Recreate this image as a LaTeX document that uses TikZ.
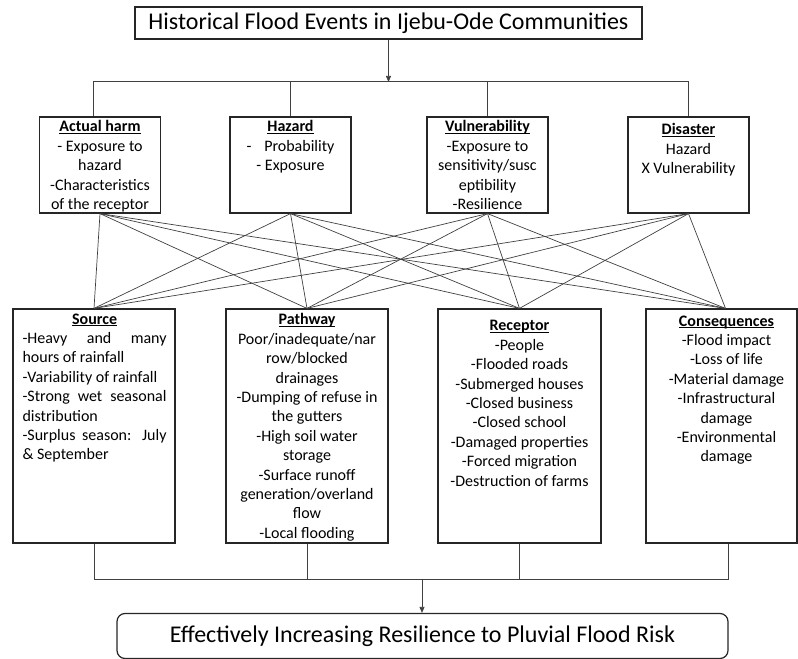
\documentclass[tikz,border=0pt]{standalone}
\usepackage{fontspec}
\setmainfont{Carlito}
\usetikzlibrary{arrows.meta,positioning}

\newcommand{\hd}[1]{\underline{\smash{\textbf{#1}}}\vphantom{\textbf{#1}}}
\newcommand{\jl}[1]{\makebox[144bp][s]{#1}}

\begin{document}
\begin{tikzpicture}[x=1bp,y=-1bp,
    box/.style={draw=black!85,line width=1.2bp,inner sep=0pt},
    txt/.style={anchor=north,align=center,inner sep=0pt,font=\fontsize{16bp}{19.4bp}\selectfont},
    link/.style={draw=black!75,line width=0.7bp},
    tip/.style={-{Triangle[length=6bp,width=5bp]}}]
\useasboundingbox (0,0) rectangle (798,659);

% top and bottom
\node[box,minimum width=507bp,minimum height=32bp,font=\fontsize{24bp}{28bp}\selectfont] (hist) at (388.5,23) {Historical Flood Events in Ijebu-Ode Communities};
\node[box,rounded corners=8bp,minimum width=611bp,minimum height=45bp,font=\fontsize{24bp}{28bp}\selectfont] (goal) at (422.5,636) {Effectively Increasing Resilience to Pluvial Flood Risk};

% upper row
\node[box,minimum width=121bp,minimum height=96bp] (harm) at (100,165) {};
\node[box,minimum width=121bp,minimum height=96bp] (haz) at (290.5,165) {};
\node[box,minimum width=121bp,minimum height=96bp] (vul) at (487.5,165) {};
\node[box,minimum width=121bp,minimum height=96bp] (dis) at (688.5,165) {};
\node[txt] (harm-t) at ([yshift=-4bp]harm.north) {\hd{Actual harm}\\- Exposure to\\hazard\\-Characteristics\\of the receptor};
\node[txt] (haz-t) at ([yshift=-4bp]haz.north) {\hd{Hazard}\\-\hspace{0.8em}Probability\\- Exposure};
\node[txt] (vul-t) at ([yshift=-4bp]vul.north) {\hd{Vulnerability}\\-Exposure to\\sensitivity/susc\\eptibility\\-Resilience};
\node[txt] (dis-t) at ([yshift=-7bp]dis.north) {\hd{Disaster}\\Hazard\\X Vulnerability};

% lower row
\node[box,minimum width=162bp,minimum height=234bp] (src) at (94,426) {};
\node[box,minimum width=162bp,minimum height=234bp] (pw) at (307,426) {};
\node[box,minimum width=163bp,minimum height=234bp] (rec) at (519.5,426) {};
\node[box,minimum width=151bp,minimum height=234bp] (cons) at (721.5,426) {};
\node[txt,anchor=north west,align=left] (src-t) at ([xshift=10bp,yshift=-5bp]src.north west) {\makebox[144bp]{\hd{Source}}\\\jl{-Heavy and many}\\hours of rainfall\\-Variability of rainfall\\\jl{-Strong wet seasonal}\\distribution\\\jl{-Surplus season: July}\\\& September};
\node[txt] (pw-t) at ([yshift=-5bp]pw.north) {\hd{Pathway}\\Poor/inadequate/nar\\row/blocked\\drainages\\-Dumping of refuse in\\the gutters\\-High soil water\\storage\\-Surface runoff\\generation/overland\\flow\\-Local flooding};
\node[txt] (rec-t) at ([yshift=-12bp]rec.north) {\hd{Receptor}\\-People\\-Flooded roads\\-Submerged houses\\-Closed business\\-Closed school\\-Damaged properties\\-Forced migration\\-Destruction of farms};
\node[txt] (cons-t) at ([xshift=5bp,yshift=-7bp]cons.north) {\hd{Consequences}\\-Flood impact\\-Loss of life\\-Material damage\\-Infrastructural\\damage\\-Environmental\\damage};

% branching
\coordinate (bus) at (388.5,82);
\coordinate (bot) at (422,579);
\draw[link,tip] (hist.south) -- (bus);
\draw[link] ([xshift=-7bp]harm.north) -- ++(0,-35) -| (dis.north);
\draw[link] (haz.north) -- (haz.north |- bus);
\draw[link] (vul.north) -- (vul.north |- bus);
\draw[link] (src.south) -- (src.south |- bot) -| ([xshift=6.5bp]cons.south);
\draw[link] (pw.south) -- (pw.south |- bot);
\draw[link] (rec.south) -- (rec.south |- bot);
\draw[link,tip] (bot) -- (bot |- goal.north);

% every upper box to every lower box
\path[link] (harm.south) edge (src.north) edge (pw.north) edge (rec.north) edge ([xshift=4bp]cons.north)
  (haz.south) edge (src.north) edge (pw.north) edge (rec.north) edge ([xshift=4bp]cons.north)
  (vul.south) edge (src.north) edge (pw.north) edge (rec.north) edge ([xshift=4bp]cons.north)
  (dis.south) edge (src.north) edge (pw.north) edge (rec.north) edge ([xshift=4bp]cons.north);
\end{tikzpicture}
\end{document}
